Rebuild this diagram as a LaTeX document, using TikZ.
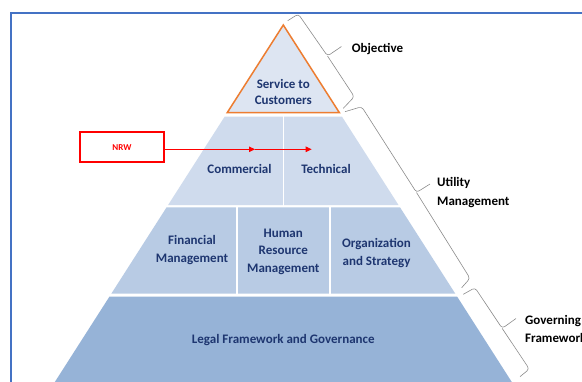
\documentclass[tikz,border=0pt]{standalone}
\usepackage{fontspec}
\setmainfont{Carlito}
\usetikzlibrary{arrows.meta}
\definecolor{frameblue}{HTML}{4472C4}
\definecolor{lvlA}{HTML}{DDE5F2}
\definecolor{lvlB}{HTML}{CFDBED}
\definecolor{lvlC}{HTML}{B8CBE4}
\definecolor{lvlD}{HTML}{96B3D7}
\definecolor{pyrblue}{RGB}{30,54,112}
\definecolor{edgeorange}{HTML}{ED7D31}
\definecolor{nrwred}{HTML}{FF0000}
\definecolor{bracegray}{HTML}{8C8C8C}
\tikzset{
  pyrtext/.style={font=\fontsize{13}{17.5}\selectfont\bfseries, text=pyrblue, align=center, inner sep=0pt},
  sidelabel/.style={font=\fontsize{13}{18.5}\selectfont\bfseries, text=black, align=left, inner sep=0pt, anchor=west},
  bracestyle/.style={draw=bracegray, line width=0.6pt, rounded corners=3pt},
  divider/.style={draw=white, line width=2pt},
  nrwbox/.style={draw=nrwred, line width=1.8pt, minimum width=84pt, minimum height=30pt, inner sep=0pt, font=\fontsize{9}{9}\selectfont\bfseries, text=nrwred},
  redarrow/.style={draw=nrwred, line width=0.9pt, -{Triangle[length=6pt,width=5.5pt]}},
  framestyle/.style={draw=frameblue, line width=2pt}
}
\begin{document}
\begin{tikzpicture}[x=1pt,y=-1pt]
\useasboundingbox (0,0) rectangle (582,381);
\clip (0,0) rectangle (582,381);
\fill[white] (0,0) rectangle (582,381);

% frame
\draw[framestyle] (11,400) -- (11,13.3) -- (600,13.3);

% level 4
\fill[lvlD] (109.4,296.7) -- (457.2,296.7) -- (516.9,390) -- (49.7,390) -- cycle;
% level 3
\fill[lvlC] (166.6,207.3) -- (400,207.3) -- (455.3,293.7) -- (111.3,293.7) -- cycle;
\draw[divider] (236.7,206) -- (236.7,295);
\draw[divider] (330,206) -- (330,295);
% level 2
\fill[lvlB] (224.6,116.7) -- (342,116.7) -- (398.5,205) -- (168.1,205) -- cycle;
\draw[divider, line width=1.6pt] (283.3,115) -- (283.3,206);
% level 1
\filldraw[fill=lvlA, draw=edgeorange, line width=1.5pt, line join=miter] (283.3,25) -- (339.4,112.7) -- (227.2,112.7) -- cycle;

% texts in pyramid
\node[pyrtext] (service) at (283.3,92) {Service to\\[-1.5pt]Customers};
\node[pyrtext] (commercial) at (239.5,169) {Commercial};
\node[pyrtext] (technical) at (326,169) {Technical};
\node[pyrtext] (financial) at (192,250) {Financial\\Management};
\node[pyrtext] (human) at (283.3,251.5) {Human\\Resource\\Management};
\node[pyrtext] (organization) at (376.5,253) {Organization\\and Strategy};
\node[pyrtext] (legal) at (283.3,340) {Legal Framework and Governance};

% NRW box and arrows
\node[nrwbox] (nrw) at (122,147.3) {NRW};
\coordinate (arrowmid) at (255,149.3);
\coordinate (arrowend) at (311.7,149.3);
\draw[redarrow] (nrw.east |- arrowmid) -- (arrowmid);
\draw[redarrow] (arrowmid) -- (arrowend);

% braces
\draw[bracestyle] (287.7,20.7) -- (298.3,14) -- (327.5,56) -- (341.5,46.5);
\draw[bracestyle] (327.5,56) -- (354.3,96.7) -- (343.3,108.3);
\draw[bracestyle] (345,111.7) -- (361.7,106.7) -- (416.5,192.5) -- (430,184);
\draw[bracestyle] (416.5,192.5) -- (470,278.3) -- (461.7,287.7);
\draw[bracestyle] (463.3,294.3) -- (475,287.7) -- (502.2,328.4) -- (516,318.5);
\draw[bracestyle] (502.2,328.4) -- (529.3,369) -- (520,376.7);

% side labels
\node[sidelabel] (objective) at (351.7,49.3) {Objective};
\node[sidelabel] (utility) at (437,192.5) {Utility\\Management};
\node[sidelabel] (governing) at (525,328.8) {Governing\\Framework};
\end{tikzpicture}
\end{document}
